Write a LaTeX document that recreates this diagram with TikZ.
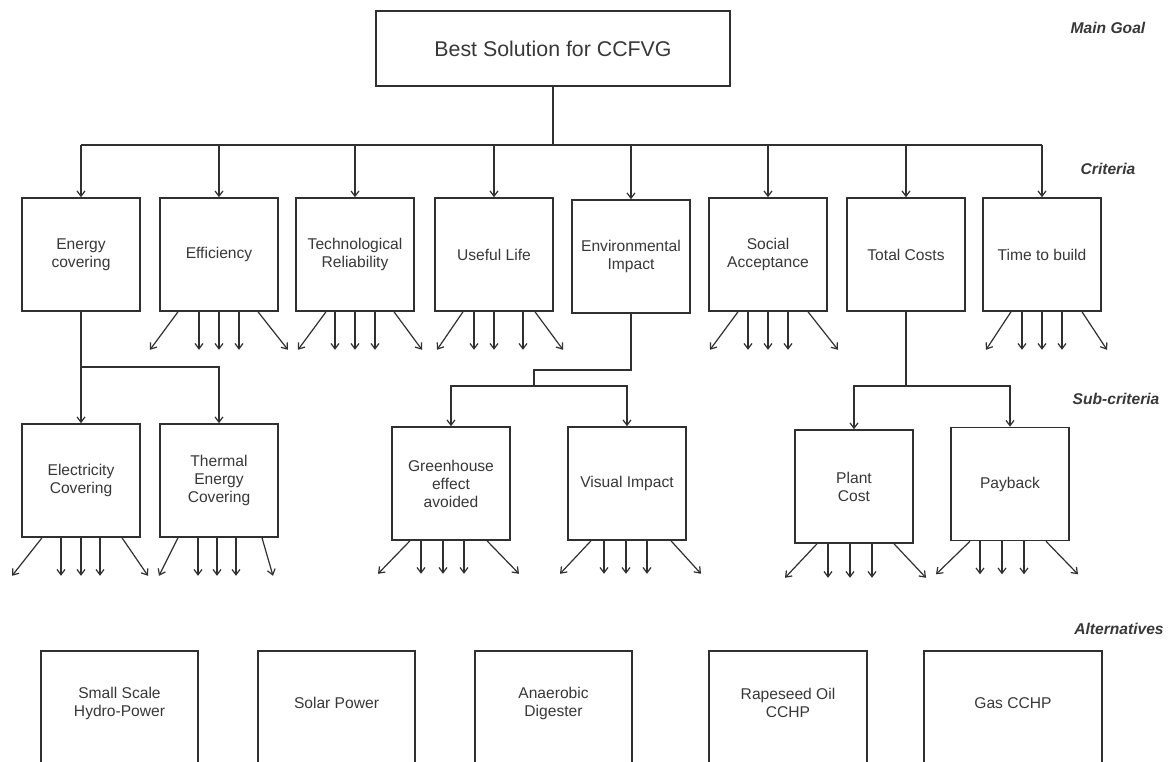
\documentclass[tikz,border=0pt]{standalone}
\usepackage{fontspec}
\setmainfont{Liberation Sans}
\usetikzlibrary{arrows.meta,calc}
\definecolor{linec}{HTML}{303030}
\definecolor{textc}{HTML}{383838}
\tikzset{
  boxbase/.style={draw=linec, line width=1.2pt, fill=white, inner sep=2pt, align=center, text=textc,
    font=\fontsize{11.7}{13.5}\selectfont},
  crit/.style={boxbase, minimum width=88.5pt, minimum height=84.75pt},
  goalbox/.style={boxbase, minimum width=265.5pt, minimum height=56.25pt, font=\fontsize{16}{19}\selectfont},
  altbox/.style={align=center, text=textc, inner sep=0pt, minimum height=78pt,
    font=\fontsize{11.7}{13.5}\selectfont},
  altline/.style={draw=linec, line width=1.2pt},
  levellabel/.style={font=\fontsize{11.7}{14}\selectfont\bfseries\itshape, text=textc, inner sep=0pt},
  conn/.style={draw=linec, line width=0.9pt},
  arr/.style={conn, -{Straight Barb[length=4pt,width=6pt]}},
}
% fan of five arrows below a box: node, left-top dx, left dx, three vertical offsets, right-top dx, right dx, length
\newcommand\fanarrows[9]{%
  \draw[arr] ($(#1.south)+(#2,0)$) -- ++(#3,#9);
  \foreach \vv in {#4,#5,#6} {\draw[arr] ($(#1.south)+(\vv,0)$) -- ++(0,#9);}
  \draw[arr] ($(#1.south)+(#7,0)$) -- ++(#8,#9);
}
\begin{document}
\begin{tikzpicture}[x=0.75pt,y=-0.75pt]
\path[use as bounding box] (0,0) rectangle (1168,762);
\clip (0,0) rectangle (1168,762);
\fill[white] (0,0) rectangle (1168,762);

% main goal
\node[goalbox] (goal) at (553,48.5) {Best Solution for CCFVG};

% criteria
\node[crit] (ec)   at (81,254.5)  {Energy\\covering};
\node[crit] (eff)  at (219,254.5) {Efficiency};
\node[crit] (tech) at (355,254.5) {Technological\\Reliability};
\node[crit] (life) at (494,254.5) {Useful Life};
\node[crit] (env)  at (631,256.5) {Environmental\\Impact};
\node[crit] (soc)  at (768,254.5) {Social\\Acceptance};
\node[crit] (tc)   at (906,254.5) {Total Costs};
\node[crit] (time) at (1042,254.5) {Time to build};

% sub-criteria
\node[crit] (elec)  at (81,480.5)  {Electricity\\Covering};
\node[crit] (therm) at (219,480.5) {Thermal\\Energy\\Covering};
\node[crit] (gh)    at (451,483.5) {Greenhouse\\effect\\avoided};
\node[crit] (vis)   at (627,483.5) {Visual Impact};
\node[crit] (plant) at (854,486.5) {Plant\\Cost};
\node[crit] (pay)   at (1010,484)  {Payback};

% alternatives
\node[altbox, minimum width=117.75pt] (a1) at (119.5,703) {Small Scale\\Hydro-Power};
\node[altbox, minimum width=117.75pt] (a2) at (336.5,703) {Solar Power};
\node[altbox, minimum width=117.75pt] (a3) at (553.5,703) {Anaerobic\\Digester};
\node[altbox, minimum width=117.75pt] (a4) at (788,703)   {Rapeseed Oil\\CCHP};
\node[altbox, minimum width=133.5pt]  (a5) at (1013,703)  {Gas CCHP};
\foreach \a in {a1,a2,a3,a4,a5} {
  \draw[altline] ([yshift=-40pt]\a.south west) -- (\a.north west) -- (\a.north east) -- ([yshift=-40pt]\a.south east);
}

% level labels
\node[levellabel] (lg) at (1108,28)  {Main Goal};
\node[levellabel] (lc) at (1108,169) {Criteria};
\node[levellabel] (ls) at (1116,399) {Sub-criteria};
\node[levellabel] (la) at (1119,629) {Alternatives};

% goal to criteria
\coordinate (bus) at (553,145);
\draw[conn] (goal.south) -- (bus);
\draw[conn] (ec.north |- bus) -- (time.north |- bus);
\foreach \c in {ec,eff,tech,life,env,soc,tc,time} {
  \draw[arr] (\c.north |- bus) -- (\c.north);
}

% energy covering branch
\coordinate (eb) at (81,367);
\draw[arr] (ec.south) -- (elec.north);
\draw[arr] (eb) -| (therm.north);

% environmental impact branch
\coordinate (e1) at (534,370);
\coordinate (e2) at (534,386);
\draw[conn] (env.south) |- (e1) -- (e2);
\draw[arr] (e2) -| (gh.north);
\draw[arr] (e2) -| (vis.north);

% total costs branch
\coordinate (t1) at (906,386);
\draw[conn] (tc.south) -- (t1);
\draw[arr] (t1) -| (plant.north);
\draw[arr] (t1) -| (pay.north);

% fans of arrows towards the alternatives
\fanarrows{eff}{-41}{-28}{-20}{0}{20}{39}{30}{38}
\fanarrows{tech}{-29}{-28}{-20}{0}{20}{39}{28}{38}
\fanarrows{life}{-31}{-26}{-20}{0}{29}{41}{28}{38}
\fanarrows{soc}{-30}{-28}{-20}{0}{20}{40}{30}{38}
\fanarrows{time}{-31}{-25}{-20}{0}{20}{40}{25}{38}
\fanarrows{elec}{-39}{-30}{-20}{0}{19}{41}{26}{38}
\fanarrows{therm}{-41}{-19}{-21}{-2}{17}{43}{11}{38}
\fanarrows{gh}{-41}{-32}{-30}{-8}{13}{36}{32}{33}
\fanarrows{vis}{-36}{-31}{-23}{-1}{20}{44}{30}{33}
\fanarrows{plant}{-37}{-32}{-26}{-4}{18}{40}{32}{34}
\fanarrows{pay}{-40}{-34}{-30}{-8}{14}{36}{32}{33}
\end{tikzpicture}
\end{document}
